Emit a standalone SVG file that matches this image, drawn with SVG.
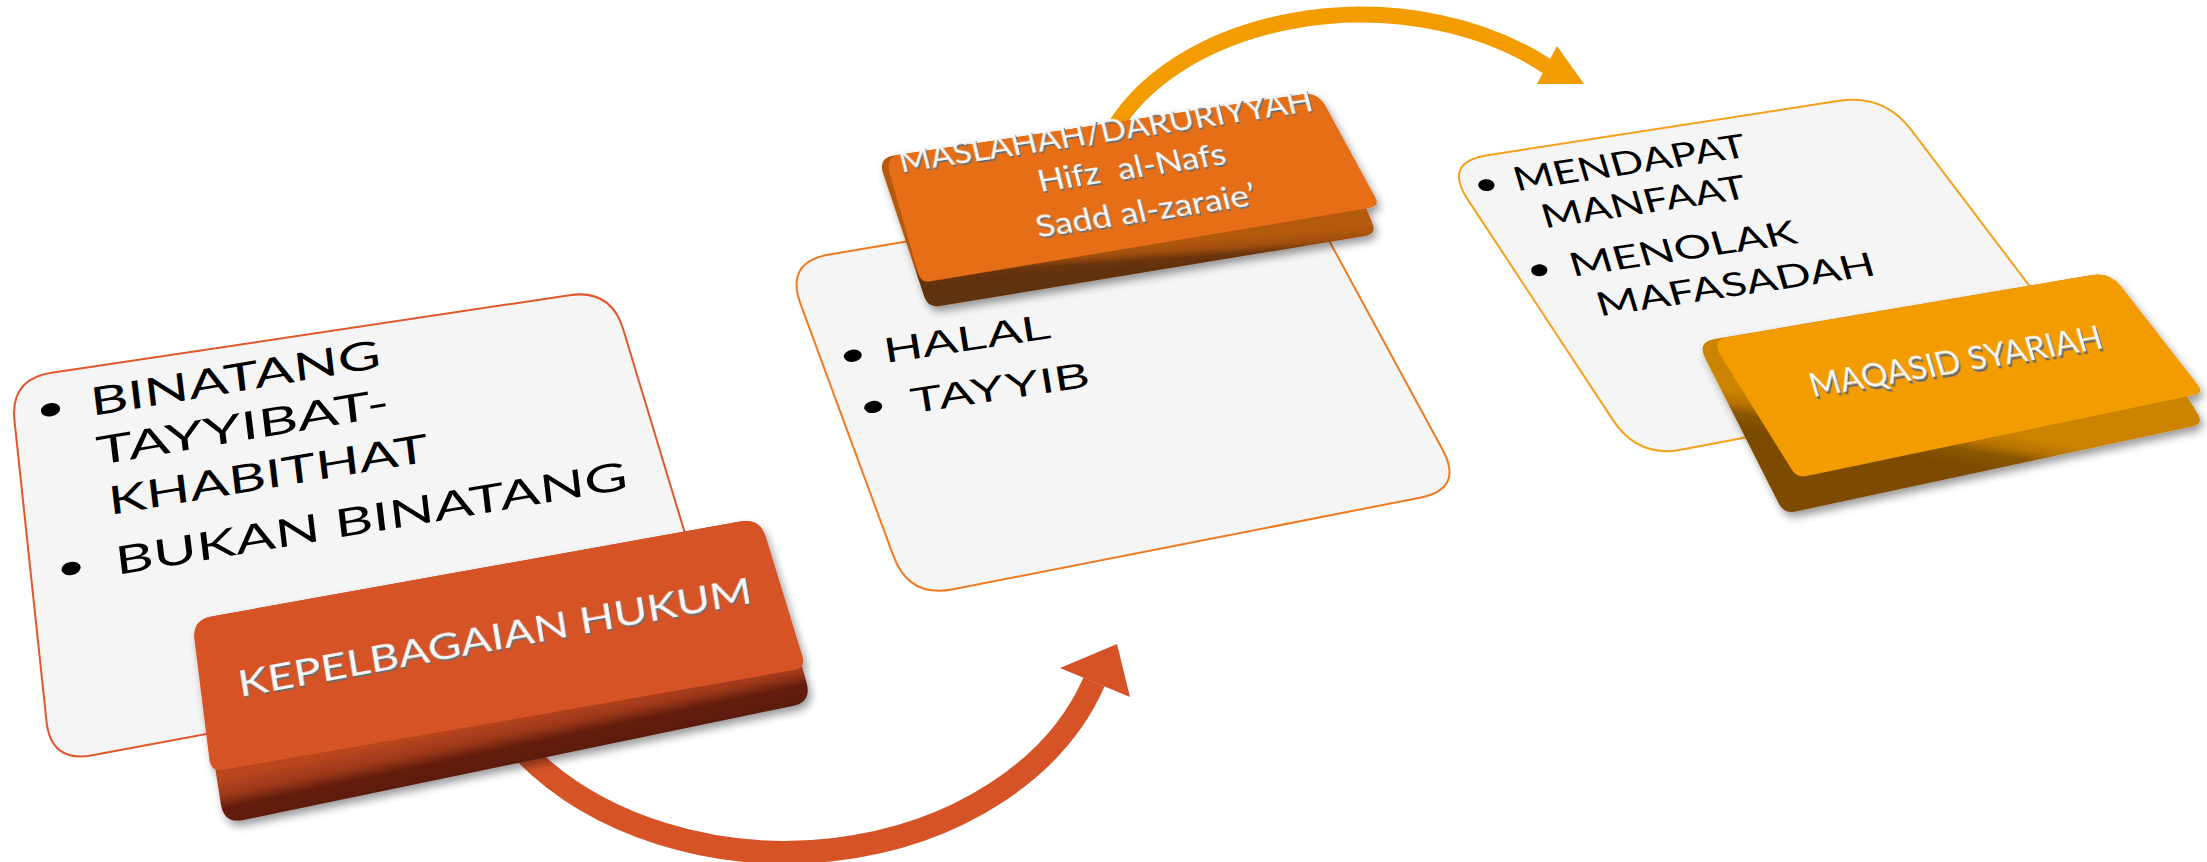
<svg xmlns="http://www.w3.org/2000/svg" width="2207" height="862" viewBox="0 0 2207 862">
<style>
.card{fill:#F5F5F5;stroke-width:2}
.c1{stroke:#E0582B}.c2{stroke:#EE7B22}.c3{stroke:#F3A01B}
.body{font-family:Lato,"Open Sans",sans-serif;fill:#000}
.arial{font-family:"Liberation Sans",Arial,sans-serif;fill:#000}
.kt{font-family:Lato,"Open Sans",sans-serif;fill:#F8F8F8;filter:url(#emb)}
.shaft{fill:none;stroke-linecap:butt}
</style>
<defs>
<filter id="emb" x="-5%" y="-30%" width="110%" height="160%">
<feOffset in="SourceAlpha" dx="0.8" dy="2.4" result="o"/>
<feFlood flood-color="#6c6c6c"/>
<feComposite in2="o" operator="in" result="s"/>
<feMerge><feMergeNode in="s"/><feMergeNode in="SourceGraphic"/></feMerge>
</filter>
<filter id="ds" x="-10%" y="-20%" width="125%" height="150%">
<feGaussianBlur in="SourceAlpha" stdDeviation="4"/>
<feOffset dx="3" dy="5"/>
<feComponentTransfer><feFuncA type="linear" slope="0.4"/></feComponentTransfer>
<feMerge><feMergeNode/><feMergeNode in="SourceGraphic"/></feMerge>
</filter>
<linearGradient id="g1" gradientUnits="userSpaceOnUse" x1="508" y1="718" x2="518" y2="765">
<stop offset="0" stop-color="#B8461F"/><stop offset="0.35" stop-color="#9C3719"/><stop offset="0.6" stop-color="#651F0E"/><stop offset="1" stop-color="#5A1B0C"/>
</linearGradient>
<linearGradient id="g2" gradientUnits="userSpaceOnUse" x1="1150" y1="242" x2="1152" y2="272">
<stop offset="0" stop-color="#B35A10"/><stop offset="0.35" stop-color="#A04E0E"/><stop offset="0.6" stop-color="#6A340A"/><stop offset="1" stop-color="#60300A"/>
</linearGradient>
<linearGradient id="g3" gradientUnits="userSpaceOnUse" x1="2000" y1="433" x2="1994" y2="470">
<stop offset="0" stop-color="#CC8400"/><stop offset="0.35" stop-color="#B57200"/><stop offset="0.6" stop-color="#8A5600"/><stop offset="1" stop-color="#7C4C00"/>
</linearGradient>
</defs>

<g id="card1">
<path class="card c1" d="M 51.5 372.8 L 569.5 295.2 Q 611 289 623.2 329.2 L 704.8 598.8 Q 717 639 675.7 646.7 L 92.3 755.3 Q 51 763 46.5 721.3 L 14.5 420.8 Q 10 379 51.5 372.8 Z"/>
<g class="body" font-size="38.5" transform="matrix(1.479,-0.249,0.12,1,92,416)">
<circle cx="-27" cy="-13" r="6.5"/>
<text x="0" y="0" textLength="196" lengthAdjust="spacingAndGlyphs">BINATANG</text>
<text x="0" y="49" textLength="198" lengthAdjust="spacingAndGlyphs">TAYYIBAT-</text>
<text x="4" y="100" textLength="216" lengthAdjust="spacingAndGlyphs">KHABITHAT</text>
<circle cx="-26" cy="146" r="6.5"/>
<text x="4" y="160" textLength="346" lengthAdjust="spacingAndGlyphs">BUKAN BINATANG</text>
</g>
</g>

<g id="card2">
<path class="card c2" d="M 829.4 254.5 L 1249.6 183.5 Q 1294 176 1315.5 215.6 L 1442.5 449.4 Q 1464 489 1419.9 497.7 L 953.1 589.3 Q 909 598 893.4 555.8 L 800.6 304.2 Q 785 262 829.4 254.5 Z"/>
<g class="arial" font-size="35" transform="matrix(1.49,-0.226,0.16,1,886,363)">
<circle cx="-21" cy="-12" r="6"/>
<text x="0" y="0" textLength="112" lengthAdjust="spacingAndGlyphs">HALAL</text>
<circle cx="-13" cy="41" r="6"/>
<text x="12" y="53" textLength="120" lengthAdjust="spacingAndGlyphs">TAYYIB</text>
</g>
</g>

<g id="card3">
<path class="card c3" d="M 1487.5 155.2 L 1839.5 100.8 Q 1884 94 1911.2 129.9 L 2066.8 335.1 Q 2094 371 2049.8 379.4 L 1682.2 449.6 Q 1638 458 1613.2 420.4 L 1467.8 199.6 Q 1443 162 1487.5 155.2 Z"/>
<g class="body" font-size="32" transform="matrix(1.38,-0.206,0.3,1,1517,191)">
<circle cx="-20" cy="-10" r="5.8"/>
<text x="0" y="0" textLength="168" lengthAdjust="spacingAndGlyphs">MENDAPAT</text>
<text x="11.6" y="39.7" textLength="148" lengthAdjust="spacingAndGlyphs">MANFAAT</text>
<circle cx="-1" cy="79" r="5.8"/>
<text x="21" y="90" textLength="164" lengthAdjust="spacingAndGlyphs">MENOLAK</text>
<text x="31.5" y="131.7" textLength="201" lengthAdjust="spacingAndGlyphs">MAFASADAH</text>
</g>
</g>

<g id="connectors">
<path class="shaft" stroke="#D65227" stroke-width="23" d="M 522 750 A 326 250 0 0 0 1094 682"/>
<polygon fill="#D65227" points="1060,668 1130,697 1117,644"/>
<path class="shaft" stroke="#F39C00" stroke-width="16" d="M 1105 146 A 267 183 0 0 1 1548 67"/>
<polygon fill="#F39C00" points="1557,46 1537,84 1584,84"/>
</g>

<g id="key1" filter="url(#ds)">
<path fill="url(#g1)" d="M 211.7 616.5 L 740.3 521.5 Q 760 518 765.4 537.2 L 806.6 682.8 Q 812 702 792.4 706.1 L 243.6 819.9 Q 224 824 220.9 804.2 L 195.1 639.8 Q 192 620 211.7 616.5 Z"/>
<path fill="#D65227" d="M 211.7 616.5 L 740.3 521.5 Q 760 518 765.9 537.1 L 802.5 656.5 Q 806 668 794.2 670.1 L 222.8 769.9 Q 211 772 209.5 760.1 L 194.5 639.8 Q 192 620 211.7 616.5 Z"/>
<text class="kt" font-size="36" textLength="414" lengthAdjust="spacingAndGlyphs" transform="matrix(1.24,-0.228,0.16,1,240,697)">KEPELBAGAIAN HUKUM</text>
</g>

<g id="key2" filter="url(#ds)">
<path fill="url(#g2)" d="M 893.8 155.6 L 1302.2 94.4 Q 1318 92 1324.1 106.8 L 1372.4 222.9 Q 1377 234 1365.2 236 L 939.8 306 Q 928 308 924.2 296.6 L 883.1 173.2 Q 878 158 893.8 155.6 Z"/>
<path fill="#E56E17" d="M 900.8 154.6 L 1302.2 94.4 Q 1318 92 1325.6 106 L 1375.2 197.2 Q 1380 206 1370.1 207.7 L 930.9 281.3 Q 921 283 918.2 273.4 L 889.4 172.4 Q 885 157 900.8 154.6 Z"/>
<g class="kt" font-size="30" text-anchor="middle" transform="matrix(1.187,-0.178,0.25,1,1108,141.5)">
<text x="0" y="0" textLength="348" lengthAdjust="spacingAndGlyphs">MASLAHAH/DARURIYYAH</text>
<text x="13.7" y="39" textLength="158" lengthAdjust="spacingAndGlyphs" xml:space="preserve">Hifz  al-Nafs</text>
<text x="16.4" y="82" textLength="185" lengthAdjust="spacingAndGlyphs">Sadd al-zaraie’</text>
</g>
</g>

<g id="key3" filter="url(#ds)">
<path fill="url(#g3)" d="M 1714.7 339 L 2092.3 275 Q 2110 272 2119.5 287.3 L 2197.7 413.8 Q 2204 424 2192.3 426.5 L 1795.7 511.5 Q 1784 514 1778.6 503.3 L 1705.1 358.1 Q 1697 342 1714.7 339 Z"/>
<path fill="#F39C00" d="M 1728.7 337 L 2092.3 275 Q 2110 272 2121.1 286.2 L 2197.9 385.1 Q 2204 393 2194.2 395 L 1806.8 476 Q 1797 478 1791.7 469.5 L 1720.5 355.3 Q 1711 340 1728.7 337 Z"/>
<text class="kt" font-size="30.7" textLength="305" lengthAdjust="spacingAndGlyphs" transform="matrix(0.957,-0.161,0.3,1,1813,397)">MAQASID SYARIAH</text>
</g>
</svg>
